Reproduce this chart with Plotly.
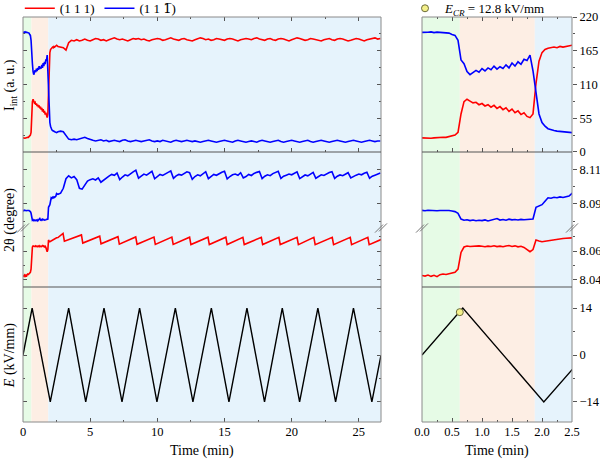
import numpy as np
import plotly.graph_objects as go

# ---------------- data ----------------
# sampling grids (minutes)
time_fine = np.round(np.arange(0, 2.5001, 0.05), 2).tolist()      # 0.00 .. 2.50
time_coarse = np.round(np.arange(2.6, 26.6001, 0.2), 2).tolist()  # 2.6 .. 26.6

# integrated intensity (a. u.)
I_111_fine = [23, 22.5, 23.2, 22.4, 23.0, 23.6, 23.1, 24.0, 23.8, 24.8,
              25.8, 27.5, 32, 62, 82, 86, 83, 80, 81, 77,
              79, 75, 77, 73, 76, 71, 74, 69, 72, 66,
              70, 64, 67, 61, 64, 58, 56, 62, 112, 148,
              162, 167, 169, 170, 171, 170, 172, 171, 172, 173, 174]
I_11b_fine = [195, 194.5, 195.2, 195.8, 194.6, 195.3, 194.8, 194.2, 193.5, 193.8,
              191.5, 190, 182, 150, 144, 131, 126, 130, 133, 130,
              136, 132, 137, 134, 140, 135, 139, 136, 142, 137,
              145, 140, 147, 143, 151, 149, 158, 132, 96, 62,
              48, 42, 38, 36, 35, 34, 33.5, 33, 32.5, 32, 31.5]
I_111_coarse = [172, 171, 170, 166, 178, 182, 181, 183, 181, 182,
                184, 182, 181, 183, 185, 184, 182, 183, 181, 183,
                184, 186, 184, 183, 184, 182, 181, 183, 185, 184,
                185, 183, 184, 182, 181, 183, 184, 185, 184, 182,
                183, 185, 186, 184, 183, 182, 184, 185, 183, 182,
                181, 183, 184, 186, 185, 183, 184, 182, 183, 185,
                184, 183, 182, 184, 185, 184, 182, 181, 183, 184,
                185, 184, 183, 185, 186, 184, 183, 182, 184, 185,
                183, 182, 184, 185, 184, 183, 181, 183, 184, 186,
                185, 184, 182, 183, 185, 184, 183, 182, 181, 183,
                184, 185, 183, 182, 184, 185, 184, 183, 181, 182,
                184, 185, 184, 182, 181, 183, 184, 185, 186, 184, 185]
I_11b_coarse = [33, 34, 33, 27, 21, 20, 21, 20, 21, 23,
                24, 22, 20, 19, 18, 19, 20, 18, 19, 17,
                18, 19, 18, 17, 19, 20, 18, 17, 18, 19,
                18, 17, 18, 19, 20, 18, 17, 18, 17, 19,
                18, 17, 16, 18, 19, 18, 17, 18, 19, 18,
                17, 18, 17, 16, 17, 18, 19, 18, 17, 16,
                17, 18, 19, 18, 17, 16, 18, 19, 18, 17,
                16, 17, 18, 17, 16, 18, 19, 18, 17, 16,
                17, 18, 19, 17, 16, 17, 18, 19, 18, 17,
                16, 17, 18, 19, 17, 16, 17, 18, 19, 18,
                17, 16, 17, 18, 19, 18, 17, 16, 17, 18,
                19, 18, 17, 16, 17, 18, 19, 18, 17, 18, 18]

# peak position 2theta (degree)
tt_11b_fine = [8.0862, 8.0860, 8.0863, 8.0861, 8.0862, 8.0860, 8.0861, 8.0862, 8.0860, 8.0861,
               8.0858, 8.0855, 8.0845, 8.0812, 8.0805, 8.0808, 8.0803, 8.0806, 8.0802, 8.0805,
               8.0803, 8.0807, 8.0801, 8.0806, 8.0810, 8.0815, 8.0806, 8.0809, 8.0805, 8.0811,
               8.0807, 8.0809, 8.0806, 8.0810, 8.0808, 8.0810, 8.0809, 8.0812, 8.0880, 8.0888,
               8.0895, 8.0915, 8.0935, 8.0932, 8.0938, 8.0935, 8.0940, 8.0937, 8.0942, 8.0945, 8.0960]
tt_11b_coarse = [8.0955, 8.0962, 8.0990, 8.1045, 8.1062, 8.1050, 8.1058, 8.1040, 8.0990, 8.0985,
                 8.1010, 8.1032, 8.1040, 8.1045, 8.1038, 8.1050, 8.1025, 8.1035, 8.1048, 8.1060,
                 8.1070, 8.1065, 8.1078, 8.1040, 8.1055, 8.1068, 8.1062, 8.1075, 8.1085, 8.1095,
                 8.1048, 8.1060, 8.1072, 8.1066, 8.1078, 8.1088, 8.1045, 8.1058, 8.1070, 8.1064,
                 8.1075, 8.1082, 8.1090, 8.1048, 8.1062, 8.1070, 8.1066, 8.1078, 8.1085, 8.1080,
                 8.1042, 8.1058, 8.1068, 8.1062, 8.1075, 8.1086, 8.1046, 8.1060, 8.1070, 8.1065,
                 8.1076, 8.1083, 8.1088, 8.1044, 8.1058, 8.1068, 8.1072, 8.1065, 8.1080, 8.1050,
                 8.1058, 8.1070, 8.1064, 8.1076, 8.1082, 8.1087, 8.1046, 8.1060, 8.1068, 8.1063,
                 8.1075, 8.1081, 8.1088, 8.1047, 8.1060, 8.1066, 8.1072, 8.1068, 8.1079, 8.1085,
                 8.1046, 8.1058, 8.1067, 8.1062, 8.1074, 8.1082, 8.1048, 8.1059, 8.1068, 8.1064,
                 8.1075, 8.1081, 8.1086, 8.1047, 8.1060, 8.1067, 8.1063, 8.1074, 8.1080, 8.1050,
                 8.1060, 8.1066, 8.1072, 8.1068, 8.1077, 8.1083, 8.1048, 8.1060, 8.1066, 8.1072, 8.1078]
tt_111_fine = [8.0430, 8.0426, 8.0433, 8.0424, 8.0431, 8.0422, 8.0436, 8.0440, 8.0437, 8.0443,
               8.0445, 8.0452, 8.0475, 8.0590, 8.0628, 8.0635, 8.0632, 8.0634, 8.0631, 8.0636,
               8.0633, 8.0630, 8.0634, 8.0632, 8.0637, 8.0631, 8.0634, 8.0630, 8.0635, 8.0638,
               8.0632, 8.0636, 8.0629, 8.0633, 8.0625, 8.0612, 8.0595, 8.0610, 8.0676, 8.0670,
               8.0665, 8.0668, 8.0672, 8.0675, 8.0680, 8.0683, 8.0685, 8.0687, 8.0689, 8.0690, 8.0692]
# (1 1 1) sawtooth after 2.5 min: turning points
tt_111_saw_t = [2.60, 2.98, 3.08, 4.35, 4.45, 5.71, 5.81, 7.07, 7.17, 8.39, 8.49, 9.75, 9.85,
                11.08, 11.18, 12.40, 12.50, 13.77, 13.87, 15.10, 15.20, 16.37, 16.47,
                17.74, 17.84, 19.05, 19.15, 20.40, 20.50, 21.65, 21.75, 23.02, 23.12,
                24.36, 24.46, 25.67, 25.77, 26.65]
tt_111_saw_v = [8.0694, 8.0722, 8.0668, 8.0712, 8.0655, 8.0703, 8.0650, 8.0700, 8.0648,
                8.0698, 8.0647, 8.0697, 8.0646, 8.0697, 8.0646, 8.0696, 8.0645, 8.0696, 8.0645,
                8.0696, 8.0645, 8.0695, 8.0645, 8.0695, 8.0645, 8.0695, 8.0645, 8.0695, 8.0644,
                8.0695, 8.0644, 8.0695, 8.0644, 8.0695, 8.0644, 8.0695, 8.0644, 8.0680]

# electric field (kV/mm): turning points of the triangular waveform
E_t = [0, 0.68, 2.03, 3.40, 4.67, 6.03, 7.37, 8.68, 9.97, 11.34, 12.65, 14.02, 15.33,
       16.67, 17.98, 19.30, 20.59, 21.95, 23.27, 24.60, 25.97, 26.65]
E_v = [0, 14, -14, 14, -14, 14, -14, 14, -14, 14, -14, 14, -14,
       14, -14, 14, -14, 14, -14, 14, -14, 0]
E_CR_t = [0.63]
E_CR_v = [12.8]

# phase regions (minutes)
phase_bounds = [0, 0.63, 1.88, 26.65]
phase_colors = ["#e6fbe6", "#fdeee4", "#e6f3fc"]

# axis ticks
I_ticks = [0, 55, 110, 165, 220]
tt_hi_ticks = [8.09, 8.11]
tt_lo_ticks = [8.04, 8.06]
E_ticks = [-14, 0, 14]
t_left_ticks = [0, 5, 10, 15, 20, 25]
t_right_ticks = [0.0, 0.5, 1.0, 1.5, 2.0, 2.5]

# ---------------- figure ----------------
RED = "#ff0000"
BLUE = "#0000ff"
FONT = "Liberation Serif"

t_all = time_fine + time_coarse
I_red = I_111_fine + I_111_coarse
I_blue = I_11b_fine + I_11b_coarse
tt_blue = tt_11b_fine + tt_11b_coarse
tt_red_t = time_fine + tt_111_saw_t
tt_red = tt_111_fine + tt_111_saw_v

fig = go.Figure()

cols = {"L": [1, 2, 3, 4], "R": [5, 6, 7, 8]}

def ax(n):
    return ("x" if n == 1 else f"x{n}"), ("y" if n == 1 else f"y{n}")

for c, ids in cols.items():
    first = c == "L"
    xa, ya = ax(ids[0])
    fig.add_trace(go.Scatter(x=t_all, y=I_red, mode="lines", line=dict(color=RED, width=1.6),
                             name="(1 1 1)", showlegend=first, legend="legend", xaxis=xa, yaxis=ya))
    fig.add_trace(go.Scatter(x=t_all, y=I_blue, mode="lines", line=dict(color=BLUE, width=1.6),
                             name='(1 1 <span style="font-family:DejaVu Serif">1\u0305</span>)',
                             showlegend=first, legend="legend", xaxis=xa, yaxis=ya))
    for k in (1, 2):
        xa, ya = ax(ids[k])
        fig.add_trace(go.Scatter(x=t_all, y=tt_blue, mode="lines", line=dict(color=BLUE, width=1.6),
                                 showlegend=False, xaxis=xa, yaxis=ya))
        fig.add_trace(go.Scatter(x=tt_red_t, y=tt_red, mode="lines", line=dict(color=RED, width=1.6),
                                 showlegend=False, xaxis=xa, yaxis=ya))
    xa, ya = ax(ids[3])
    fig.add_trace(go.Scatter(x=E_t, y=E_v, mode="lines", line=dict(color="black", width=1.4),
                             showlegend=False, xaxis=xa, yaxis=ya))

xa, ya = ax(8)
fig.add_trace(go.Scatter(x=E_CR_t, y=E_CR_v, mode="markers",
                         marker=dict(symbol="circle", size=7, color="#f4f08a",
                                     line=dict(color="#6b6b3a", width=1)),
                         name="<i>E<sub>CR</sub></i> = 12.8 kV/mm", showlegend=True,
                         legend="legend2", xaxis=xa, yaxis=ya))

XL = [0.0, 0.6521]
XR = [0.7268, 1.0]
ROWS = [[0.6667, 1.0], [0.479, 0.6667], [0.3333, 0.479], [0.0, 0.3333]]
YR = [[0, 220], [8.076, 8.12], [8.035, 8.076], [-20, 20.3]]
YT = [I_ticks, tt_hi_ticks, tt_lo_ticks, E_ticks]
YM = [[27.5, 82.5, 137.5, 192.5], [8.08, 8.10], [8.05, 8.07], [-7, 7]]

tickfont = dict(family=FONT, size=12.5, color="black")
layout = {}
for c, ids in cols.items():
    left = c == "L"
    for r, n in enumerate(ids):
        xk = "xaxis" if n == 1 else f"xaxis{n}"
        yk = "yaxis" if n == 1 else f"yaxis{n}"
        xa, ya = ax(n)
        bottom = r == 3
        layout[xk] = dict(
            domain=XL if left else XR, anchor=ya,
            range=[0, 26.65] if left else [0, 2.5],
            tickmode="array", tickvals=t_left_ticks if left else t_right_ticks,
            ticktext=[str(v) for v in t_left_ticks] if left else [f"{v:.1f}" for v in t_right_ticks],
            ticks="inside" if (bottom or r == 0) else "", ticklen=4, tickcolor="#555",
            mirror="ticks" if r == 0 else False,
            minor=dict(tickvals=[2.5, 7.5, 12.5, 17.5, 22.5] if left else [0.25, 0.75, 1.25, 1.75, 2.25],
                       ticks="inside" if (bottom or r == 0) else "", ticklen=2, tickcolor="#555"),
            showticklabels=bottom, tickfont=tickfont,
            showgrid=False, zeroline=False, showline=False,
        )
        yd = dict(
            domain=ROWS[r], anchor=xa, range=YR[r],
            tickmode="array", tickvals=YT[r],
            showgrid=False, zeroline=False, showline=False,
            ticklen=4, tickcolor="#555", tickfont=tickfont,
            minor=dict(tickvals=YM[r], ticklen=2, tickcolor="#555",
                       ticks="inside" if left else "outside"),
        )
        if left:
            yd.update(ticks="inside", showticklabels=False, side="left", mirror="ticks")
        else:
            yd.update(ticks="outside", showticklabels=True, side="right")
        layout[yk] = yd

shapes = []
FRAME = "#8a8a8a"
SEP = "#555555"
for c, ids in cols.items():
    xref = "x" if c == "L" else "x5"
    dom = XL if c == "L" else XR
    for i, col in enumerate(phase_colors):
        shapes.append(dict(type="rect", xref=xref, yref="paper",
                           x0=phase_bounds[i], x1=phase_bounds[i + 1], y0=0, y1=1,
                           fillcolor=col, line=dict(width=0), layer="below"))
    shapes.append(dict(type="rect", xref="paper", yref="paper", x0=dom[0], x1=dom[1], y0=0, y1=1,
                       line=dict(color=FRAME, width=1), fillcolor="rgba(0,0,0,0)", layer="above"))
    for yy in (ROWS[0][0], ROWS[3][1]):
        shapes.append(dict(type="line", xref="paper", yref="paper", x0=dom[0], x1=dom[1], y0=yy, y1=yy,
                           line=dict(color=SEP, width=1.2), layer="above"))
    # axis break marks
    for xx in dom:
        for off in (-2, 2):
            shapes.append(dict(type="line", xref="paper", yref="paper",
                               xsizemode="pixel", ysizemode="pixel", xanchor=xx, yanchor=ROWS[1][0],
                               x0=-4 + off, x1=4 + off, y0=-4 + off * 0.3, y1=4 + off * 0.3,
                               line=dict(color="#777", width=1), layer="above"))

annots = []
lab = dict(family=FONT, size=14, color="black")
annots.append(dict(text="I<sub>int</sub> (a. u.)", x=-0.0237, y=0.832, xref="paper", yref="paper",
                   textangle=-90, showarrow=False, font=lab, xanchor="center", yanchor="middle"))
annots.append(dict(text="2θ (degree)", x=-0.0237, y=0.499, xref="paper", yref="paper",
                   textangle=-90, showarrow=False, font=lab, xanchor="center", yanchor="middle"))
annots.append(dict(text="<i>E</i> (kV/mm)", x=-0.0237, y=0.165, xref="paper", yref="paper",
                   textangle=-90, showarrow=False, font=lab, xanchor="center", yanchor="middle"))
for dom in (XL, XR):
    annots.append(dict(text="Time (min)", x=(dom[0] + dom[1]) / 2, y=-0.0716, xref="paper", yref="paper",
                       showarrow=False, font=lab, xanchor="center", yanchor="middle"))

fig.update_layout(
    width=600, height=462,
    margin=dict(l=23, r=28, t=17, b=40, autoexpand=False),
    paper_bgcolor="white", plot_bgcolor="rgba(0,0,0,0)",
    font=dict(family=FONT, size=13, color="black"),
    shapes=shapes, annotations=annots,
    legend=dict(orientation="h", xref="container", yref="container", x=0.033, y=0.982,
                xanchor="left", yanchor="middle",
                font=dict(family=FONT, size=13), bgcolor="rgba(0,0,0,0)", itemwidth=30,
                tracegroupgap=0, borderwidth=0),
    legend2=dict(orientation="h", xref="container", yref="container", x=0.675, y=0.982,
                 xanchor="left", yanchor="middle",
                 font=dict(family=FONT, size=13), bgcolor="rgba(0,0,0,0)", borderwidth=0),
    **layout,
)

fig.write_html("out.html", post_script="document.body.style.margin='0';",
               config={"displayModeBar": False})
